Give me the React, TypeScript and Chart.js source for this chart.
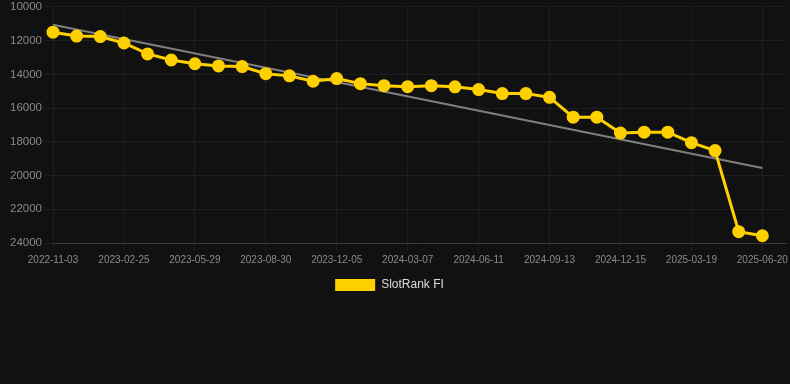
import React, { useEffect, useRef } from "react";
import { Chart, registerables } from "chart.js";

Chart.register(...registerables);

const dateLabels: string[] = [
  "2022-11-03", "2022-12-11", "2023-01-18", "2023-02-25", "2023-03-28", "2023-04-28",
  "2023-05-29", "2023-06-29", "2023-07-30", "2023-08-30", "2023-10-01", "2023-11-03",
  "2023-12-05", "2024-01-05", "2024-02-05", "2024-03-07", "2024-04-08", "2024-05-10",
  "2024-06-11", "2024-07-12", "2024-08-12", "2024-09-13", "2024-10-14", "2024-11-14",
  "2024-12-15", "2025-01-15", "2025-02-16", "2025-03-19", "2025-04-19", "2025-05-20",
  "2025-06-20", "2025-07-21",
];

const rankValues: number[] = [
  11500, 11730, 11760, 12140, 12790, 13150, 13370, 13500, 13540, 13960,
  14090, 14410, 14250, 14550, 14670, 14730, 14670, 14740, 14900, 15140,
  15140, 15360, 16540, 16540, 17480, 17430, 17430, 18050, 18520, 23330, 23570,
];

const trendEnds: number[] = [11060, 19550];

const yTicks: number[] = [10000, 12000, 14000, 16000, 18000, 20000, 22000, 24000];

const FONT = "'Liberation Sans', Arial, sans-serif";

const legendShift = {
  id: "legendShift",
  beforeDraw(chart: any) {
    if (chart.legend) {
      chart.legend.left = 0;
      chart.legend.right = 779;
    }
  },
};

export default function App() {
  const ref = useRef<HTMLCanvasElement | null>(null);

  useEffect(() => {
    if (!ref.current) return;
    const trend: (number | null)[] = rankValues.map((_, i) =>
      i === 0 ? trendEnds[0] : i === rankValues.length - 1 ? trendEnds[1] : null
    );
    const chart = new Chart(ref.current, {
      type: "line",
      data: {
        labels: dateLabels,
        datasets: [
          {
            label: "SlotRank FI",
            data: rankValues,
            borderColor: "#FFD000",
            backgroundColor: "#FFD000",
            borderWidth: 3,
            pointRadius: 5,
            pointHoverRadius: 5,
            pointBackgroundColor: "#FFD000",
            pointBorderColor: "#FFD000",
            tension: 0,
            order: 1,
          },
          {
            label: "Trend",
            data: trend,
            borderColor: "rgba(140,140,140,0.9)",
            backgroundColor: "rgba(140,140,140,0.9)",
            borderWidth: 2,
            pointRadius: 0,
            spanGaps: true,
            order: 2,
          },
        ],
      },
      plugins: [legendShift],
      options: {
        animation: false,
        responsive: false,
        maintainAspectRatio: false,
        layout: { autoPadding: false, padding: { left: 0, right: 0, top: 0, bottom: 3 } },
        plugins: {
          legend: {
            position: "bottom",
            labels: {
              color: "#dddddd",
              font: { size: 12, family: FONT },
              boxWidth: 40,
              boxHeight: 12,
              generateLabels: (c: any) => {
                const items = Chart.defaults.plugins.legend.labels.generateLabels(c);
                return items
                  .filter((it: any) => it.text === "SlotRank FI")
                  .map((it: any) => ({ ...it, lineWidth: 0, strokeStyle: "rgba(0,0,0,0)" }));
              },
            },
          },
          tooltip: { enabled: false },
        },
        scales: {
          x: {
            offset: false,
            grid: { color: "rgba(255,255,255,0.05)" },
            border: { color: "rgba(255,255,255,0.12)" },
            afterFit: (axis: any) => {
              axis.paddingRight = 4;
              axis.paddingLeft = 0;
            },
            ticks: {
              autoSkip: false,
              maxRotation: 0,
              color: "#8a8a8a",
              padding: 3,
              font: { size: 10, family: FONT },
              callback: function (this: any, _v: any, index: number) {
                return index % 3 === 0 && index < rankValues.length ? dateLabels[index] : null;
              },
            },
          },
          y: {
            reverse: true,
            min: yTicks[0],
            max: yTicks[yTicks.length - 1],
            grid: { color: "rgba(255,255,255,0.05)" },
            border: { display: false },
            afterBuildTicks: (axis: any) => {
              axis.ticks = yTicks.map((v) => ({ value: v }));
            },
            afterFit: (axis: any) => {
              axis.width = 53;
            },
            ticks: {
              color: "#8a8a8a",
              padding: 3,
              font: { size: 11.5, family: FONT },
              callback: (v: any) => String(v),
            },
          },
        },
      },
    });
    return () => chart.destroy();
  }, []);

  return (
    <div style={{ position: "absolute", left: 0, top: 0, width: 790, height: 384, background: "#111111", overflow: "hidden" }}>
      <canvas ref={ref} width={790} height={307} style={{ display: "block", marginTop: -3 }} />
    </div>
  );
}
